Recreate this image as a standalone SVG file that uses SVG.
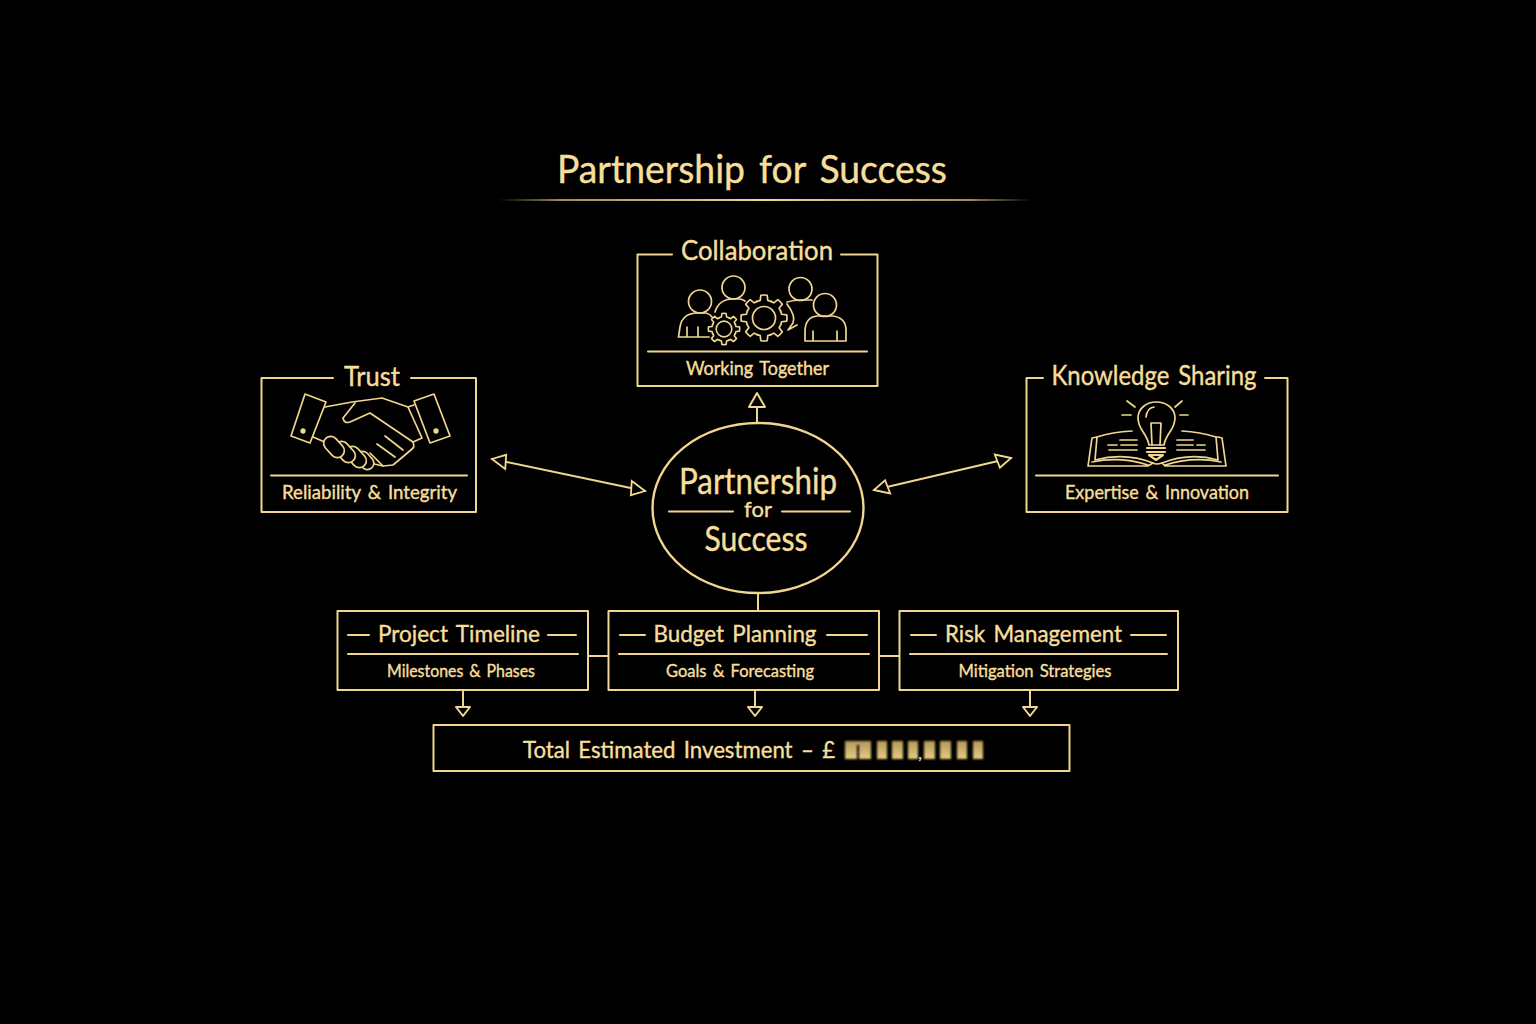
<svg xmlns="http://www.w3.org/2000/svg" width="1536" height="1024" viewBox="0 0 1536 1024">
<defs>
<linearGradient id="rule" x1="0" x2="1" y1="0" y2="0"><stop offset="0" stop-color="#f3d98f" stop-opacity="0"/><stop offset=".12" stop-color="#f3d98f" stop-opacity=".65"/><stop offset=".5" stop-color="#f3d98f"/><stop offset=".88" stop-color="#f3d98f" stop-opacity=".65"/><stop offset="1" stop-color="#f3d98f" stop-opacity="0"/></linearGradient>
<linearGradient id="mask" x1="0" x2="0" y1="0" y2="1"><stop offset="0" stop-color="#b39757"/><stop offset="1" stop-color="#e6cc85"/></linearGradient>
<filter id="blur" x="-5%" y="-20%" width="110%" height="140%"><feGaussianBlur stdDeviation="1.1"/></filter>
<marker id="tip" viewBox="0 0 20 20" refX="18" refY="10" markerWidth="20" markerHeight="20" markerUnits="userSpaceOnUse" orient="auto-start-reverse"><path d="M18 10 L3 3 L5 17 Z" fill="#000" stroke="#f3d98f" stroke-width="1.8"/></marker>
<path id="tooth" d="M-6.89 -16.63A18 18 0 0 1 -3.74 -17.61L-3.2 -22.78A23 23 0 0 1 3.2 -22.78L3.74 -17.61A18 18 0 0 1 6.89 -16.63"/>
<g id="gear">
<circle r="19" fill="#000" stroke="none"/>
<use href="#tooth"/><use href="#tooth" transform="rotate(45)"/><use href="#tooth" transform="rotate(90)"/><use href="#tooth" transform="rotate(135)"/><use href="#tooth" transform="rotate(180)"/><use href="#tooth" transform="rotate(225)"/><use href="#tooth" transform="rotate(270)"/><use href="#tooth" transform="rotate(315)"/>
<circle r="11.500"/>
</g>
</defs>
<style>
svg{background:#000}
.l{fill:none;stroke:#f0d68e;stroke-width:2;stroke-linejoin:round;stroke-linecap:round}
.i{fill:none;stroke:#f0d68e;stroke-width:1.7;stroke-linejoin:round;stroke-linecap:round}
text{font-family:"Lato","Noto Sans",sans-serif;fill:#f6de9c;stroke:#f6de9c;stroke-width:.4;text-anchor:middle;word-spacing:.12em}
.h{font-size:27px}
.s{font-size:19px}
.t{font-size:17px}
.f{fill:#000}
</style>
<rect width="1536" height="1024" fill="#000"/>
<g id="title">
<text x="752" y="183" font-size="38" textLength="390" lengthAdjust="spacingAndGlyphs">Partnership for Success</text>
<rect x="498" y="199" width="534" height="2" fill="url(#rule)"/>
</g>
<g id="connectors">
<path class="l" d="M757 423V407"/>
<path d="M757 393L749 407H765Z" class="l"/>
<path class="l" d="M492 459L645 491" marker-start="url(#tip)" marker-end="url(#tip)"/>
<path class="l" d="M1011 458L874 490" marker-start="url(#tip)" marker-end="url(#tip)"/>
<path class="l" d="M758 594V610M588 656H608M879 656H899"/>
<path class="l" d="M463 690V707M755 690V707M1030 690V707"/>
<path class="l" d="M456 707H470L463 716ZM748 707H762L755 716ZM1023 707H1037L1030 716Z"/>
</g>
<g id="node-center">
<ellipse class="l" cx="758" cy="508" rx="105.500" ry="85" style="stroke-width:2.400"/>
<text x="758" y="494" font-size="36" textLength="158" lengthAdjust="spacingAndGlyphs">Partnership</text>
<text x="758" y="517" font-size="22">for</text>
<path class="l" d="M669 511.500H733M782 511.500H850"/>
<text x="756" y="551" font-size="34" textLength="103" lengthAdjust="spacingAndGlyphs">Success</text>
</g>
<g id="node-collaboration">
<path class="l" d="M672 254.500H637.500V386H877.500V254.500H841M648 351.500H867"/>
<text x="757" y="260" class="h" textLength="152" lengthAdjust="spacingAndGlyphs">Collaboration</text>
<text x="757.500" y="375" class="s" textLength="143" lengthAdjust="spacingAndGlyphs">Working Together</text>
<g class="i">
<circle cx="700" cy="301.500" r="11.500"/><circle cx="733.500" cy="287.500" r="11.500"/><circle cx="800.500" cy="289" r="11.500"/><circle cx="825" cy="305" r="11.500"/>
<path d="M709 337H678.500L680 327Q682 314 696 313H706Q710 314 712 317M687 337V327M698 337V327"/>
<path d="M715 312Q719 299 733 299Q741 298 745 301"/>
<path d="M787 302Q795 300 800 300H812"/>
<path d="M787 304Q796 316 793 323L788 330L797 325"/>
<path d="M805 341V330Q806 317 817 316H833Q846 318 846 330V341ZM813 341V331M837 341V331"/>
</g>
<g class="i">
<use href="#gear" transform="translate(764 318)"/>
<use href="#gear" transform="translate(724 329) scale(.68)" style="stroke-width:2.400"/>
</g>
</g>
<g id="node-trust">
<path class="l" d="M333 378H261.500V512H476V378H411M271 475.500H467"/>
<text x="372" y="386" class="h" textLength="56" lengthAdjust="spacingAndGlyphs">Trust</text>
<text x="369.500" y="499" class="s" textLength="175" lengthAdjust="spacingAndGlyphs">Reliability &amp; Integrity</text>
<g class="i">
<path d="M305 394L326 402L310 443L291 436ZM414 401L434 394L450 436L430 443Z"/>
<circle cx="303" cy="431" r="1.800" fill="#f0d68e"/><circle cx="436" cy="431" r="1.800" fill="#f0d68e"/>
<path d="M325 407L352 402L382 398L408 407L414 405"/>
<path d="M355 403L343 418Q344 424 350 422L370 413L413 442Q415 447 412 449L405 455L393 465L383 466L370 463"/>
<path d="M408 407L422 438L413 442"/>
<path d="M313 437L327 443M385 436L403 450M377 444L395 457M370 453L383 466"/>
<rect class="f" x="355" y="454" width="20" height="13" rx="6.500" transform="rotate(48 365 460.500)"/>
<rect class="f" x="344" y="450" width="24" height="14" rx="7" transform="rotate(48 356 457)"/>
<rect class="f" x="333" y="445" width="24" height="14" rx="7" transform="rotate(48 345 452)"/>
<rect class="f" x="322" y="440" width="24" height="14" rx="7" transform="rotate(48 334 447)"/>
</g>
</g>
<g id="node-knowledge">
<path class="l" d="M1043 378H1026.500V512H1287.500V378H1265M1036 475.500H1278"/>
<text x="1154" y="385" class="h" textLength="205" lengthAdjust="spacingAndGlyphs">Knowledge Sharing</text>
<text x="1157" y="499" class="s" textLength="184" lengthAdjust="spacingAndGlyphs">Expertise &amp; Innovation</text>
<g class="i">
<path d="M1127 401L1135 407M1182 401L1175 407M1122 415H1131M1180 415H1188"/>
<path d="M1149 445C1147 433 1138 430 1138 418C1138 408 1147 402 1156 402C1166 402 1175 408 1175 418C1175 430 1166 433 1164 445Z"/>
<path d="M1152 445L1151 423H1161L1160 445M1146 417Q1147 408 1154 407"/>
<path d="M1147 448H1165M1147 452H1165M1149 455H1163L1156 460Z" style="stroke-width:2.200"/>
<path d="M1132 431Q1112 432 1097 437L1095 460Q1125 452 1153 463Q1156 465 1162 463Q1190 452 1218 460L1216 437Q1200 432 1182 431"/>
<path d="M1097 437L1092 438L1088 466H1148L1153 463M1216 437L1218 437L1222 438L1226 466H1165L1162 463M1092 462Q1120 456 1148 465M1221 462Q1194 456 1165 465"/>
<path d="M1120 440H1137M1108 445H1117M1121 445H1137M1109 450H1137M1177 440H1193M1177 445H1193M1197 445H1205M1177 450H1205"/>
</g>
</g>
<g id="node-timeline">
<path class="l" d="M337.500 611H588V690H337.500ZM348 654H578M348 635H369M548 635H576"/>
<text x="459" y="642" font-size="24" textLength="162" lengthAdjust="spacingAndGlyphs">Project Timeline</text>
<text x="461" y="677" class="t" textLength="148" lengthAdjust="spacingAndGlyphs">Milestones &amp; Phases</text>
</g>
<g id="node-budget">
<path class="l" d="M608.500 611H879V690H608.500ZM619 654H869M620 635H645M827 635H867"/>
<text x="735" y="642" font-size="24" textLength="163" lengthAdjust="spacingAndGlyphs">Budget Planning</text>
<text x="740" y="677" class="t" textLength="148" lengthAdjust="spacingAndGlyphs">Goals &amp; Forecasting</text>
</g>
<g id="node-risk">
<path class="l" d="M899.500 611H1178V690H899.500ZM910 654H1167M911 635H936M1131 635H1166"/>
<text x="1033.500" y="642" font-size="24" textLength="177" lengthAdjust="spacingAndGlyphs">Risk Management</text>
<text x="1035" y="677" class="t" textLength="153" lengthAdjust="spacingAndGlyphs">Mitigation Strategies</text>
</g>
<g id="node-total">
<rect class="l" x="433.500" y="725" width="636" height="46"/>
<text x="679" y="758" font-size="24" textLength="312" lengthAdjust="spacingAndGlyphs">Total Estimated Investment – £</text>
<g fill="url(#mask)" filter="url(#blur)">
<path d="M845 741H871V759H859V745H857V759H845Z"/>
<rect x="877" y="741" width="10" height="18"/><rect x="892" y="741" width="11" height="18"/><rect x="908" y="741" width="10" height="18"/><rect x="924" y="741" width="11" height="18"/><rect x="940" y="741" width="11" height="18"/><rect x="957" y="741" width="10" height="18"/><rect x="973" y="741" width="10" height="18"/>
</g>
<text x="920" y="759" font-size="16">,</text>
</g>
</svg>
